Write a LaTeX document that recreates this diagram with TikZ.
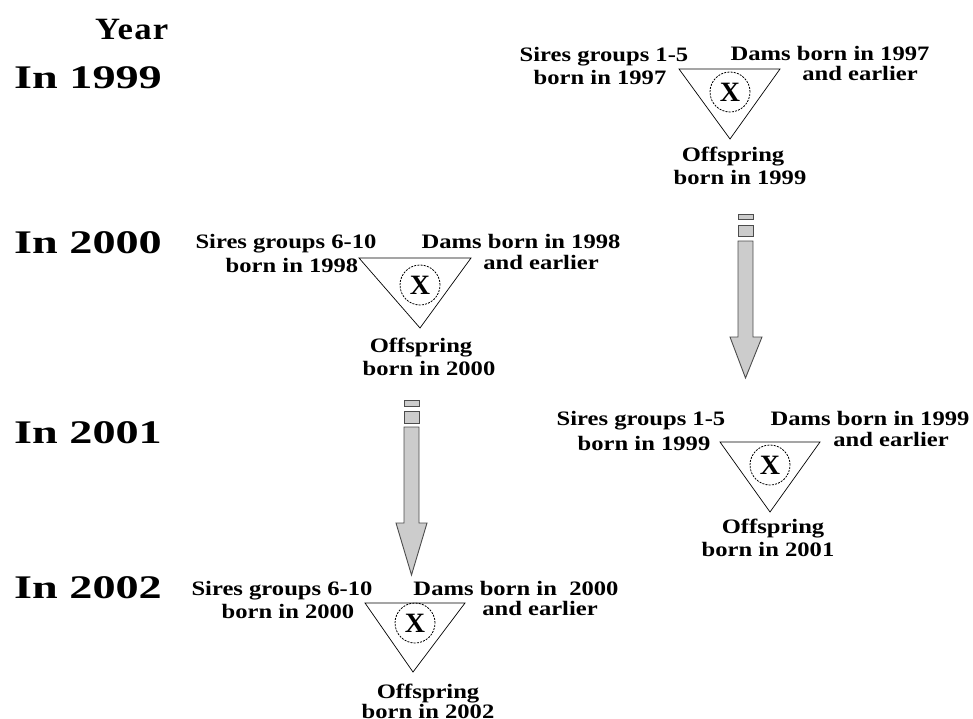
\documentclass[tikz,border=0pt]{standalone}
\usepackage{fontspec}
\setmainfont[FakeStretch=1.2]{Liberation Serif}
\newfontfamily\yearfont[FakeStretch=1.4]{Liberation Serif}
\newfontfamily\headfont[FakeStretch=1.12,LetterSpace=4]{Liberation Serif}
\newfontfamily\xfont{Liberation Serif}
\begin{document}
\begin{tikzpicture}[x=1pt,y=-1pt,
  lbl/.style={inner sep=0pt,anchor=base,font=\fontsize{20.5}{22}\selectfont\bfseries},
  yr/.style={inner sep=0pt,anchor=base west,font=\yearfont\fontsize{33}{36}\selectfont\bfseries},
  tri/.style={draw=black,line width=0.7pt,line join=miter},
  xcirc/.style={circle,draw=black,line width=0.8pt,dash pattern=on 2pt off 1.2pt,minimum size=40pt,inner sep=0pt,font=\xfont\fontsize{28}{28}\selectfont\bfseries},
  blk/.style={fill=black!20,draw=black!70,line width=0.9pt}
]
\useasboundingbox (0,0) rectangle (973,719);

% year labels
\node[yr,font=\headfont\fontsize{31}{34}\selectfont\bfseries] (year) at (95,40) {Year};
\node[yr] (y1999) at (14,89) {In 1999};
\node[yr] (y2000) at (14,253) {In 2000};
\node[yr] (y2001) at (14,443) {In 2001};
\node[yr] (y2002) at (14,598) {In 2002};

% Block A (1999)
\coordinate (A1) at (679,69); \coordinate (A2) at (780,69); \coordinate (A3) at (730,139);
\draw[tri] (A1) -- (A2) -- (A3) -- cycle;
\node[xcirc] (xA) at (730,92) {X};
\node[lbl] (sA1) at (604,62) {Sires groups 1-5};
\node[lbl] (sA2) at (600,85) {born in 1997};
\node[lbl] (dA1) at (830,61) {Dams born in 1997};
\node[lbl] (dA2) at (860,81) {and earlier};
\node[lbl] (oA1) at (733,162) {Offspring};
\node[lbl] (oA2) at (740,185) {born in 1999};

% Block B (2000)
\coordinate (B1) at (359,258); \coordinate (B2) at (471,258); \coordinate (B3) at (420,328);
\draw[tri] (B1) -- (B2) -- (B3) -- cycle;
\node[xcirc] (xB) at (420,285) {X};
\node[lbl] (sB1) at (286,248) {Sires groups 6-10};
\node[lbl] (sB2) at (292,272) {born in 1998};
\node[lbl] (dB1) at (521,248) {Dams born in 1998};
\node[lbl] (dB2) at (541,269) {and earlier};
\node[lbl] (oB1) at (421,352) {Offspring};
\node[lbl] (oB2) at (429,375) {born in 2000};

% Block C (2001)
\coordinate (C1) at (720,442); \coordinate (C2) at (820,442); \coordinate (C3) at (770,512);
\draw[tri] (C1) -- (C2) -- (C3) -- cycle;
\node[xcirc] (xC) at (770,465) {X};
\node[lbl] (sC1) at (641,425) {Sires groups 1-5};
\node[lbl] (sC2) at (644,450) {born in 1999};
\node[lbl] (dC1) at (870,425) {Dams born in 1999};
\node[lbl] (dC2) at (891,446) {and earlier};
\node[lbl] (oC1) at (773,533) {Offspring};
\node[lbl] (oC2) at (768,556) {born in 2001};

% Block D (2002)
\coordinate (D1) at (365,603); \coordinate (D2) at (465,603); \coordinate (D3) at (413,672);
\draw[tri] (D1) -- (D2) -- (D3) -- cycle;
\node[xcirc] (xD) at (415,623) {X};
\node[lbl] (sD1) at (282,595) {Sires groups 6-10};
\node[lbl] (sD2) at (288,618) {born in 2000};
\node[lbl] (dD1) at (516,595) {Dams born in\ \ 2000};
\node[lbl] (dD2) at (540,615) {and earlier};
\node[lbl] (oD1) at (428,698) {Offspring};
\node[lbl] (oD2) at (428,718) {born in 2002};

% Block arrow 1 (1999 -> 2001)
\draw[blk] (738,214) rectangle (753,219);
\draw[blk] (738,225) rectangle (753,236);
\draw[blk,line join=miter] (738,241) -- (753,241) -- (753,337) -- (762,337) -- (745.5,378) -- (730,337) -- (738,337) -- cycle;

% Block arrow 2 (2000 -> 2002)
\draw[blk] (404,400) rectangle (419,406);
\draw[blk] (404,411) rectangle (419,423);
\draw[blk,line join=miter] (404,427) -- (419,427) -- (419,523) -- (427,523) -- (411.5,575) -- (396,523) -- (404,523) -- cycle;
\end{tikzpicture}
\end{document}
